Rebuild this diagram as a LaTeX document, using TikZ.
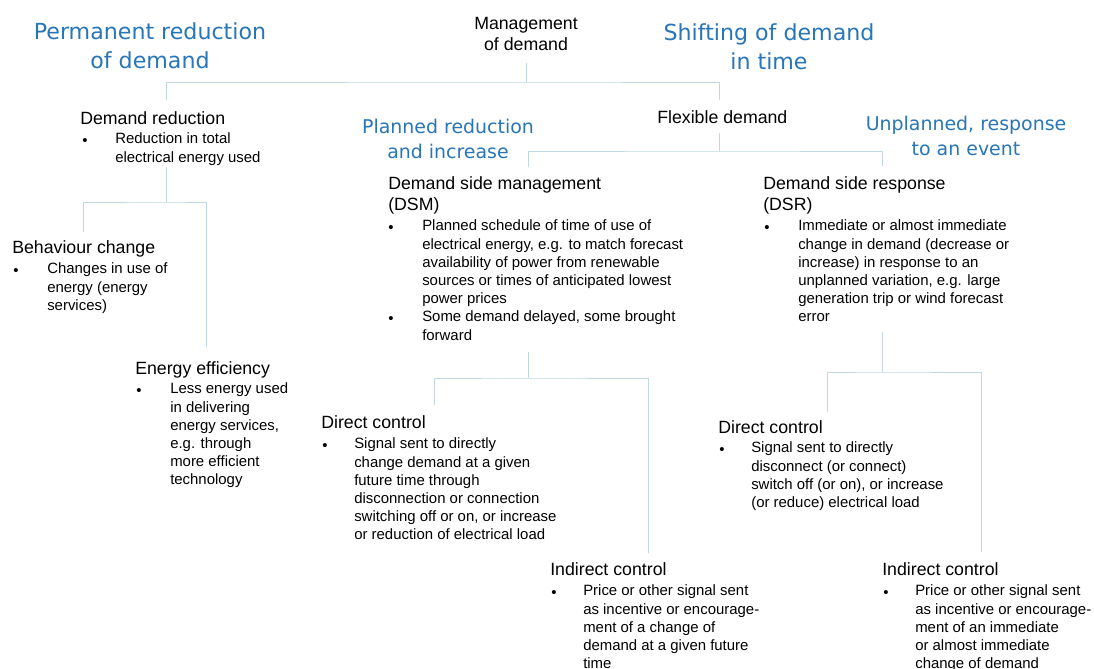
\documentclass[tikz,border=0pt]{standalone}
\usepackage{fontspec}
\setmainfont{Liberation Sans}
\newfontfamily\goalfont{DejaVu Sans}
\definecolor{goalblue}{RGB}{40,118,184}
\definecolor{linkcol}{RGB}{192,216,226}

\begin{document}
\begin{tikzpicture}[x=0.75pt,y=-0.75pt,
  link/.style={draw=linkcol, line width=0.75pt},
  goal/.style={text=goalblue, font=\goalfont\fontsize{16.6}{21.75}\selectfont, align=center, anchor=north, inner sep=0, execute at begin node=\strut, yshift=12.2pt},
  subgoal/.style={goal, font=\goalfont\fontsize{14.2}{19.2}\selectfont, yshift=-1.3pt},
  head/.style={anchor=north west, inner sep=0, align=left, font=\fontsize{13.3}{15.5}\selectfont, execute at begin node=\strut, yshift=10.6pt},
  body/.style={anchor=north west, inner sep=0, align=left, font=\fontsize{11.2}{13.65}\selectfont, execute at begin node=\strut, yshift=7.65pt},
  itemdot/.style={body}]
\fill[white] (0,0) rectangle (1094,668);
\useasboundingbox (0,0) rectangle (1094,668);

\node[goal] (permred) at (150,39) {Permanent reduction\\of demand};
\node[goal] (shift) at (769,40) {Shifting of demand\\in time};
\node[subgoal] (planned) at (448,133) {Planned reduction\\and increase};
\node[subgoal] (unplanned) at (966,130) {Unplanned, response\\to an event};

\node[head, anchor=north, align=center, font=\fontsize{13.3}{16}\selectfont] (mgmt) at (526,31) {Management\\of demand};

\node[head] (dred) at (80,124) {Demand reduction};
\node[itemdot] (dred-b) at (82,143) {\textbullet};
\node[body] (dred-t) at (115,143) {Reduction in total\\electrical energy used};

\node[head] (behav) at (12,253) {Behaviour change};
\node[itemdot] (behav-b) at (13,273) {\textbullet};
\node[body] (behav-t) at (47,273) {Changes in use of\\energy (energy\\services)};

\node[head] (eff) at (135,374) {Energy efficiency};
\node[itemdot] (eff-b) at (136,393) {\textbullet};
\node[body] (eff-t) at (170,393) {Less energy used\\in delivering\\energy services,\\e.g. through\\more efficient\\technology};

\node[head] (flex) at (657,123) {Flexible demand};

\node[head] (dsm) at (388,191) {Demand side management\\(DSM)};
\node[itemdot] (dsm-b1) at (388,230) {\textbullet};
\node[itemdot] (dsm-b2) at (388,321) {\textbullet};
\node[body] (dsm-t) at (422,230) {Planned schedule of time of use of\\electrical energy, e.g. to match forecast\\availability of power from renewable\\sources or times of anticipated lowest\\power prices\\Some demand delayed, some brought\\forward};

\node[head] (dsr) at (763,191) {Demand side response\\(DSR)};
\node[itemdot] (dsr-b) at (764,230) {\textbullet};
\node[body] (dsr-t) at (798,230) {Immediate or almost immediate\\change in demand (decrease or\\increase) in response to an\\unplanned variation, e.g. large\\generation trip or wind forecast\\error};

\node[head] (dcplan) at (321,428) {Direct control};
\node[itemdot] (dcplan-b) at (322,448) {\textbullet};
\node[body] (dcplan-t) at (354,448) {Signal sent to directly\\change demand at a given\\future time through\\disconnection or connection\\switching off or on, or increase\\or reduction of electrical load};

\node[head] (icplan) at (550,575) {Indirect control};
\node[itemdot] (icplan-b) at (551,595) {\textbullet};
\node[body] (icplan-t) at (583,595) {Price or other signal sent\\as incentive or encourage-\\ment of a change of\\demand at a given future\\time};

\node[head] (dcresp) at (718,433) {Direct control};
\node[itemdot] (dcresp-b) at (719,452) {\textbullet};
\node[body] (dcresp-t) at (751,452) {Signal sent to directly\\disconnect (or connect)\\switch off (or on), or increase\\(or reduce) electrical load};

\node[head] (icresp) at (882,575) {Indirect control};
\node[itemdot] (icresp-b) at (883,595) {\textbullet};
\node[body] (icresp-t) at (915,595) {Price or other signal sent\\as incentive or encourage-\\ment of an immediate\\or almost immediate\\change of demand};

\coordinate (mgmt-out) at (526,63);
\coordinate (mgmt-fork) at (526,82);
\coordinate (dred-in) at (166,100);
\coordinate (flex-in) at (719,100);
\draw[link] (mgmt-out) -- (mgmt-fork);
\draw[link] (dred-in) |- (mgmt-fork) -| (flex-in);

\coordinate (dred-out) at (166,167);
\coordinate (dred-fork) at (166,202);
\coordinate (behav-in) at (83,232);
\coordinate (eff-in) at (206,347);
\draw[link] (dred-out) -- (dred-fork);
\draw[link] (behav-in) |- (dred-fork) -| (eff-in);

\coordinate (flex-out) at (719,133);
\coordinate (flex-fork) at (719,151);
\coordinate (dsm-in) at (528,167);
\coordinate (dsr-in) at (882,166);
\draw[link] (flex-out) -- (flex-fork);
\draw[link] (dsm-in) |- (flex-fork) -| (dsr-in);

\coordinate (dsm-out) at (528,352);
\coordinate (dsm-fork) at (528,378);
\coordinate (dcplan-in) at (434,405);
\coordinate (icplan-in) at (648,553);
\draw[link] (dsm-out) -- (dsm-fork);
\draw[link] (dcplan-in) |- (dsm-fork) -| (icplan-in);

\coordinate (dsr-out) at (882,332);
\coordinate (dsr-fork) at (882,372);
\coordinate (dcresp-in) at (827,412);
\coordinate (icresp-in) at (981,552);
\draw[link] (dsr-out) -- (dsr-fork);
\draw[link] (dcresp-in) |- (dsr-fork) -| (icresp-in);

\end{tikzpicture}
\end{document}
